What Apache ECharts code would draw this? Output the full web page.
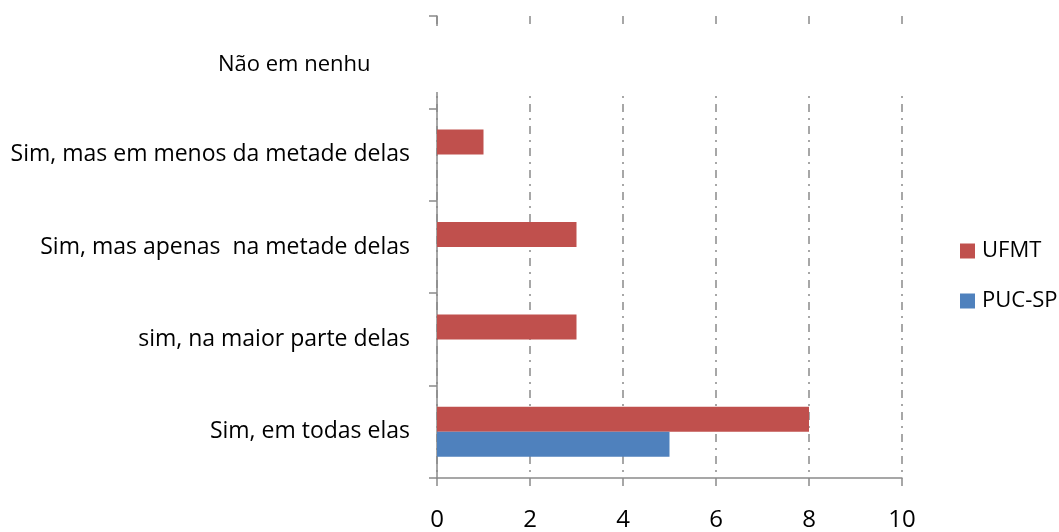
<!DOCTYPE html>
<html>
<head>
<meta charset="utf-8">
<script src="https://cdn.jsdelivr.net/npm/echarts@6/dist/echarts.min.js"></script>
<style>
  html, body { margin: 0; padding: 0; background: #fff; }
  #chart { width: 1059px; height: 532px; }
</style>
</head>
<body>
<div id="chart"></div>
<script>
// 类目（从下到上）
const categories = [
    'Sim, em todas elas',
    'sim, na maior parte delas',
    'Sim, mas apenas  na metade delas',
    'Sim, mas em menos da metade delas',
    'Não em nenhuma'
];
const ufmtValues = [8, 3, 3, 1, 0];
const pucValues = [5, 0, 0, 0, 0];
const xTicks = [0, 2, 4, 6, 8, 10];

const axisColor = '#8a8a8a';
const fontFamily = '"Open Sans", "Noto Sans", sans-serif';

const chart = echarts.init(document.getElementById('chart'));
const option = {
    animation: false,
    textStyle: { fontFamily: fontFamily },
    grid: { left: 437, right: 157, top: 16, bottom: 54, containLabel: false },
    legend: {
        data: ['UFMT', 'PUC-SP'],
        orient: 'vertical',
        left: 960,
        top: 240,
        padding: 0,
        itemWidth: 15,
        itemHeight: 15,
        itemGap: 28,
        icon: 'rect',
        textStyle: { fontSize: 22, color: '#000', padding: [0, 0, 0, 2] }
    },
    xAxis: {
        type: 'value',
        min: xTicks[0],
        max: xTicks[xTicks.length - 1],
        interval: 2,
        axisLine: { show: true, lineStyle: { color: axisColor, width: 1.5 } },
        axisTick: { show: true, length: 8, lineStyle: { color: axisColor, width: 1.5 } },
        axisLabel: { fontSize: 24, color: '#000', margin: 30 },
        splitLine: {
            show: true,
            lineStyle: { color: axisColor, width: 1.5, type: [8, 6, 2, 6] }
        }
    },
    yAxis: {
        type: 'category',
        data: categories,
        axisLine: { show: true, lineStyle: { color: axisColor, width: 1.5 } },
        axisTick: { show: true, length: 8, lineStyle: { color: axisColor, width: 1.5 } },
        axisLabel: {
            fontSize: 23,
            color: '#000',
            margin: 27,
            formatter: function (v) {
                return v === 'Não em nenhuma' ? '' : v;
            }
        }
    },
    series: [
        {
            name: 'UFMT',
            type: 'bar',
            data: ufmtValues,
            barWidth: 25,
            barGap: '0%',
            itemStyle: { color: '#C0504D' }
        },
        {
            name: 'PUC-SP',
            type: 'bar',
            data: pucValues,
            barWidth: 25,
            barGap: '0%',
            itemStyle: { color: '#4F81BD' }
        }
    ],
    graphic: [
        {
            // 顶部类目标签的白色遮挡框（原图中被截断）
            type: 'rect',
            z: 100,
            shape: { x: 370, y: 26, width: 545, height: 66 },
            style: { fill: '#fff' }
        },
        {
            type: 'text',
            z: 101,
            x: 218,
            y: 65,
            style: {
                text: 'Não em nenhu',
                fontSize: 22,
                fontFamily: fontFamily,
                fill: '#000',
                textVerticalAlign: 'middle'
            }
        }
    ]
};
chart.setOption(option);
window.addEventListener('resize', function () {
    chart.resize();
});
</script>
</body>
</html>
